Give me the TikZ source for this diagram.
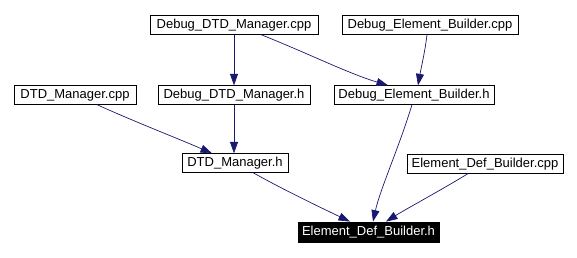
\documentclass[tikz,border=0pt]{standalone}
\usepackage{fontspec}
\setmainfont{Liberation Sans}
\usetikzlibrary{arrows.meta}
\definecolor{edgeblue}{HTML}{191970}
\begin{document}
\begin{tikzpicture}[x=1pt,y=-1pt,
  filebox/.style={draw=black,fill=white,line width=0.8pt,inner sep=0pt,
    minimum height=18.5pt,font=\fontsize{13}{15}\selectfont},
  focusbox/.style={filebox,fill=black,text=white},
  dep/.style={draw=edgeblue,line width=0.7pt,
    -{Triangle[length=11.5pt,width=8pt]}}]
\useasboundingbox (0,0) rectangle (577,257);
\node[filebox,minimum width=168pt] (ddmcpp) at (234,25) {Debug\_DTD\_Manager.cpp};
\node[filebox,minimum width=176pt] (debcpp) at (430,25) {Debug\_Element\_Builder.cpp};
\node[filebox,minimum width=122pt] (dmcpp) at (75,95) {DTD\_Manager.cpp};
\node[filebox,minimum width=152pt] (ddmh) at (234,95) {Debug\_DTD\_Manager.h};
\node[filebox,minimum width=160pt] (debh) at (414,95) {Debug\_Element\_Builder.h};
\node[filebox,minimum width=106pt] (dmh) at (235,163) {DTD\_Manager.h};
\node[filebox,minimum width=156pt] (edbcpp) at (485,164) {Element\_Def\_Builder.cpp};
\node[focusbox,minimum width=141pt,minimum height=20pt] (edbh) at (368.5,232) {Element\_Def\_Builder.h};
% include dependencies
\draw[dep] (ddmcpp.south) -- (ddmh.north);
\draw[dep] ([xshift=27pt]ddmcpp.south) .. controls +(50,20) and +(-40,-12) .. ([xshift=-26pt]debh.north);
\draw[dep] ([xshift=-3pt]debcpp.south) .. controls +(-2,17) and +(3,-17) .. ([xshift=4pt]debh.north);
\draw[dep] ([xshift=22pt]dmcpp.south) .. controls +(35,16) and +(-32,-14) .. ([xshift=-23pt]dmh.north);
\draw[dep] (ddmh.south) -- (dmh.north -| ddmh.south);
\draw[dep] ([xshift=18pt]dmh.south) .. controls +(32,18) and +(-25,-12) .. ([xshift=-18.5pt]edbh.north);
\draw[dep] ([xshift=-2pt]debh.south) .. controls +(-12,40) and +(7,-32) .. ([xshift=4.5pt]edbh.north);
\draw[dep] ([xshift=-17pt]edbcpp.south) .. controls +(-28,17) and +(19,-12) .. ([xshift=17.5pt]edbh.north);
\end{tikzpicture}
\end{document}
